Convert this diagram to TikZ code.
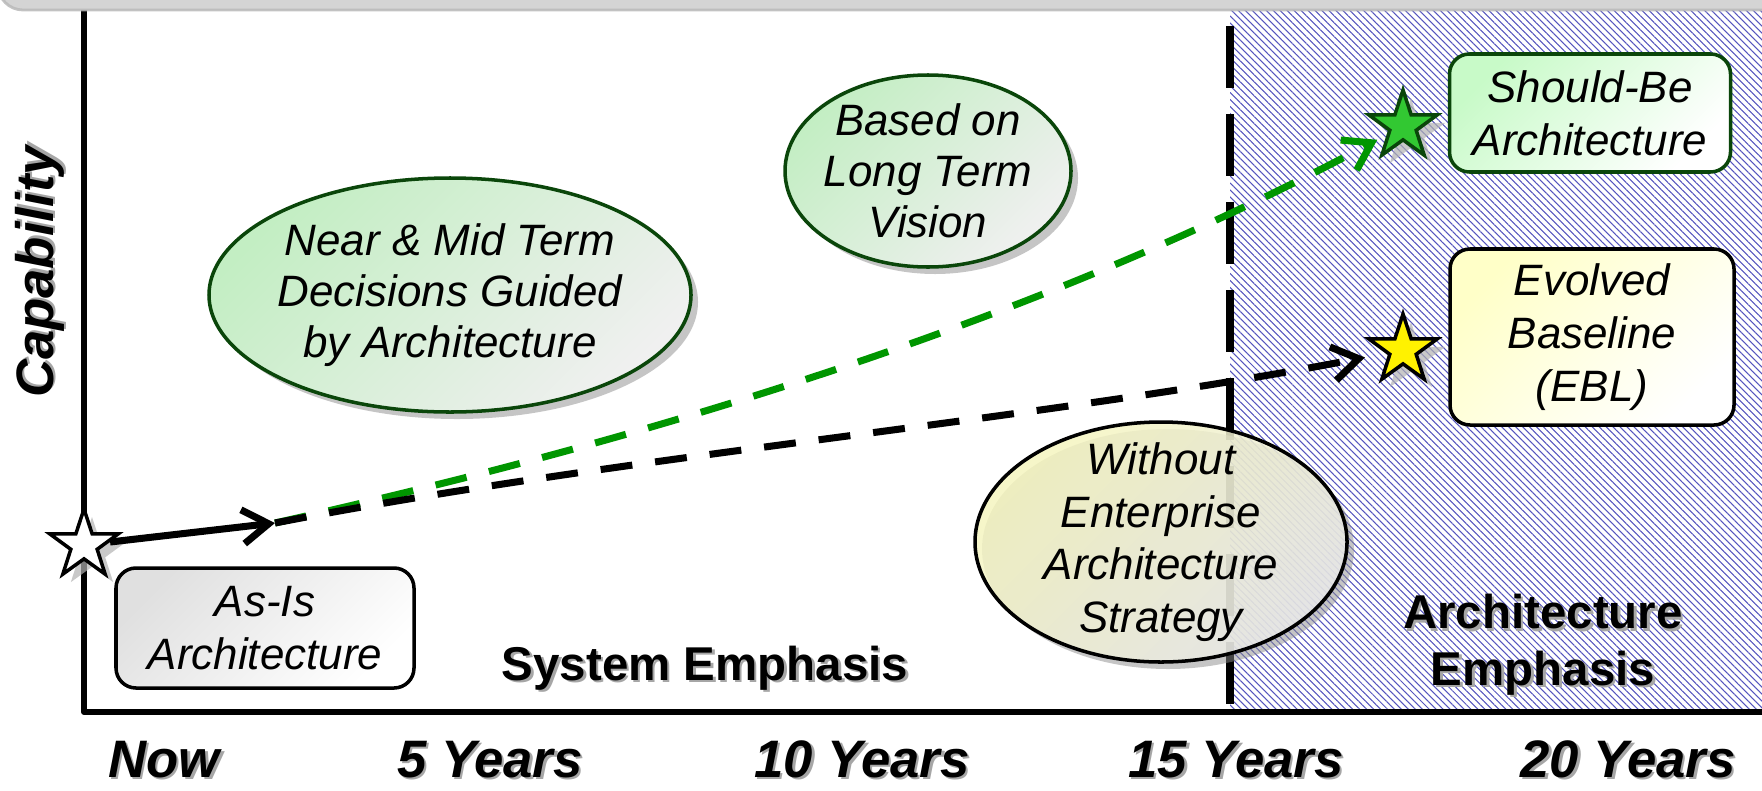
\documentclass[tikz,border=0pt]{standalone}
\usepackage{fontspec}
\setmainfont{Liberation Sans}
\usetikzlibrary{arrows.meta}
\usetikzlibrary{shapes.geometric}
\usetikzlibrary{patterns.meta}
\usetikzlibrary{shadows}
\usetikzlibrary{positioning}

\definecolor{darkgrn}{RGB}{10,70,10}
\definecolor{linegrn}{RGB}{0,150,0}
\definecolor{stargrn}{RGB}{50,200,50}
\definecolor{hatchblue}{RGB}{85,85,190}
\definecolor{palegrn}{RGB}{195,238,195}
\definecolor{lightgrn}{RGB}{200,250,200}
\definecolor{paleyel}{RGB}{245,245,190}
\definecolor{lightyel}{RGB}{255,255,200}

% bold labels get a soft grey shadow
\newcommand{\shtext}[1]{\leavevmode\rlap{\kern0.7pt\raisebox{-0.7pt}{\textcolor{black!35}{#1}}}#1}

\begin{document}
\begin{tikzpicture}[
    box/.style={draw, line width=1pt, rounded corners=2mm, align=center, inner sep=0pt,
      font=\fontsize{12.5}{15}\selectfont\itshape},
    oval/.style={ellipse, draw, line width=1pt, align=center, inner xsep=-1mm, inner ysep=-2.5mm,
      font=\fontsize{12.5}{14.5}\selectfont\itshape,
      drop shadow={shadow xshift=0.7mm, shadow yshift=-0.7mm, fill=black!45, opacity=0.5}},
    grnshade/.style={top color=palegrn, bottom color=black!6, shading angle=45},
    yelshade/.style={top color=paleyel, bottom color=black!8, shading angle=45},
    starmark/.style={star, star points=5, star point ratio=2.6, draw, line width=1pt,
      inner sep=0pt, minimum size=7.2mm,
      drop shadow={shadow xshift=0.8mm, shadow yshift=-0.8mm, fill=black!30, opacity=0.7}},
    years/.style={font=\fontsize{15}{18}\selectfont\bfseries\itshape, anchor=base},
    zone/.style={font=\fontsize{13.5}{16}\selectfont\bfseries, align=center},
    dline/.style={line width=2pt, dash pattern=on 3.2mm off 2.3mm,
      -{Straight Barb[length=2.6mm,width=3.4mm]}}
  ]
  \useasboundingbox (0,0) rectangle (17.62,7.90);

  % hatched long term zone
  \fill[pattern={Lines[angle=-45,distance=1.4pt,line width=0.3pt]}, pattern color=hatchblue]
    (12.30,0.78) rectangle (17.62,7.80);
  \draw[line width=2.3pt, dash pattern=on 6.2mm off 2.6mm, dash phase=7.2mm] (12.30,7.80) -- (12.30,0.78);

  % axes
  \draw[line width=1.7pt, line join=round] (0.84,7.80) -- (0.84,0.78) -- (17.62,0.78);
  \draw[fill=gray!40, draw=gray!55, line width=0.8pt, opacity=0.85, rounded corners=2.5mm]
    (-0.02,8.6) rectangle (18,7.80);

  %% targets
  \node(S0)[starmark, fill=white] at (0.84,2.45) {};
  \node(S1)[starmark, fill=stargrn, draw=darkgrn] at (14.03,6.64) {};
  \node(S2)[starmark, fill=yellow] at (14.03,4.40) {};

  %% paths
  \coordinate(M) at (2.75,2.67);
  \draw[line width=2pt, -{Straight Barb[length=2.6mm,width=3.4mm]}] (S0) -- (M);
  \draw[dline, linegrn, shorten >=3pt] (M) .. controls (6.55,3.52) and (10.4,4.7) .. (S1);
  \draw[dline, shorten >=6pt] (M) .. controls (6.25,3.35) and (10.43,3.70) .. (S2);

  %% boxes
  \node(AsIs)[box, top color=black!12, bottom color=white, shading angle=45,
    minimum width=2.98cm, minimum height=1.2cm] at (2.65,1.62) {As-Is\\Architecture};
  \node(SB)[box, draw=darkgrn, top color=lightgrn, bottom color=white, shading angle=45,
    minimum width=2.81cm, minimum height=1.18cm] at (15.90,6.77) {Should-Be\\Architecture};
  \node(EBL)[box, top color=lightyel, bottom color=white, shading angle=45,
    minimum width=2.84cm, minimum height=1.76cm] at (15.92,4.53) {Evolved\\Baseline\\(EBL)};

  %% notes
  \node(E1)[oval, draw=darkgrn, grnshade, minimum width=4.82cm, minimum height=2.34cm]
    at (4.50,4.95) {Near \& Mid Term\\Decisions Guided\\by Architecture};
  \node(E2)[oval, draw=darkgrn, grnshade, minimum width=2.86cm, minimum height=1.92cm]
    at (9.28,6.19) {Based on\\Long Term\\Vision};
  \node(E3)[oval, yelshade, fill opacity=0.85, text opacity=1, minimum width=3.72cm, minimum height=2.40cm,
    font=\fontsize{12.5}{15}\selectfont\itshape] at (11.61,2.48) {Without\\Enterprise\\Architecture\\Strategy};

  %% labels
  \node(SE)[zone, anchor=base] at (7.05,1.10) {\shtext{System Emphasis}};
  \node(AE)[zone] at (15.43,1.44) {\shtext{Architecture}\\\shtext{Emphasis}};
  \node(Cap)[years, rotate=90] at (0.53,5.18) {\shtext{Capability}};
  \node(T0)[years] at (1.64,0.13) {\shtext{Now}};
  \node(T1)[years] at (4.90,0.13) {\shtext{5 Years}};
  \node(T2)[years] at (8.62,0.13) {\shtext{10 Years}};
  \node(T3)[years] at (12.36,0.13) {\shtext{15 Years}};
  \node(T4)[years] at (16.28,0.13) {\shtext{20 Years}};
\end{tikzpicture}
\end{document}
